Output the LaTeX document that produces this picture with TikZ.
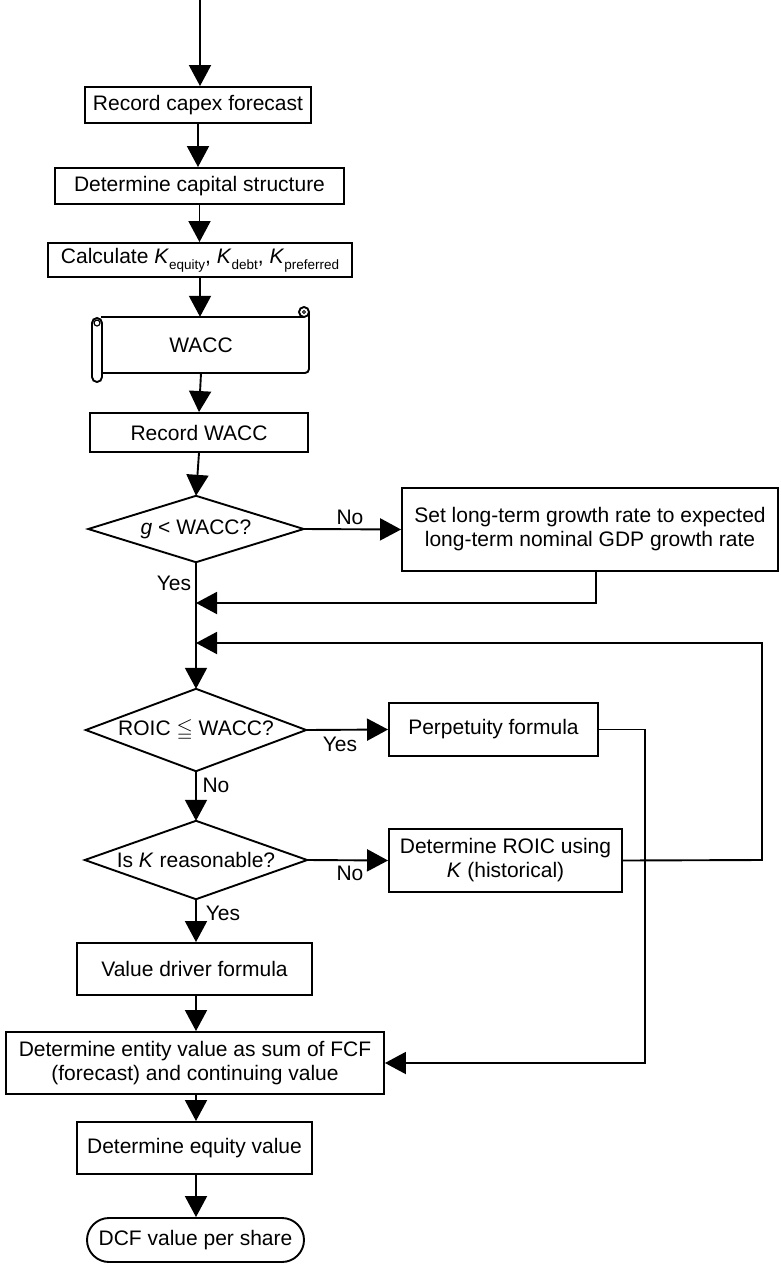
\documentclass[tikz,border=0pt]{standalone}
\usepackage{fontspec}
\setmainfont{Liberation Sans}
\usepackage{amssymb}
\usetikzlibrary{arrows.meta}
\newcommand\subx[1]{\raisebox{-0.3em}{\fontsize{13.5pt}{14pt}\selectfont #1}}
\begin{document}
\begin{tikzpicture}[x=1pt,y=-1pt,
  font=\fontsize{21pt}{24pt}\selectfont,
  ln/.style={line width=1.9pt, line join=miter},
  box/.style={draw, line width=1.9pt, inner sep=0pt, align=center},
  dia/.style={inner sep=0pt, align=center},
  arr/.style={ln, -{Triangle[length=21pt,width=22pt]}},
  lbl/.style={inner sep=0pt}]
\useasboundingbox (0,0) rectangle (781,1264);

% nodes
\coordinate (start) at (200,0);
\node[box, minimum width=226pt, minimum height=36pt] (rcf) at (198,105) {Record capex forecast};
\node[box, minimum width=289pt, minimum height=36pt] (dcs) at (199.5,186) {Determine capital structure};
\node[box, minimum width=304pt, minimum height=34pt] (calc) at (200,260) {Calculate \textit{K}\subx{equity}, \textit{K}\subx{debt}, \textit{K}\subx{preferred}};
\node[inner sep=0pt, minimum width=208pt, minimum height=56pt] (wacc) at (201,345) {WACC};
\node[box, minimum width=218pt, minimum height=39pt] (rw) at (199,432.5) {Record WACC};
\node[dia, minimum width=215pt, minimum height=66pt] (d1) at (196,529) {\textit{g} < WACC?};
\node[box, minimum width=376pt, minimum height=83pt] (set) at (590,529.5) {Set long-term growth rate to expected\\long-term nominal GDP growth rate};
\node[dia, minimum width=220pt, minimum height=82pt] (d2) at (196,730) {ROIC $\leqq$ WACC?};
\node[box, minimum width=209pt, minimum height=53pt] (perp) at (493.5,729.5) {Perpetuity formula};
\node[dia, minimum width=222pt, minimum height=78pt] (d3) at (196,860) {Is \textit{K} reasonable?};
\node[box, minimum width=233pt, minimum height=63pt] (roic) at (505.5,860.5) {Determine ROIC using\\\textit{K} (historical)};
\node[box, minimum width=235pt, minimum height=52pt] (vd) at (194.5,969) {Value driver formula};
\node[box, minimum width=378pt, minimum height=62pt] (ent) at (195,1063) {Determine entity value as sum of FCF\\(forecast) and continuing value};
\node[box, minimum width=235pt, minimum height=52pt] (eq) at (194.5,1148) {Determine equity value};
\node[box, rounded corners=22pt, minimum width=217pt, minimum height=44pt] (dcf) at (195.5,1240) {DCF value per share};

% diamonds
\foreach \d in {d1,d2,d3}
  \draw[ln] (\d.north) -- (\d.east) -- (\d.south) -- (\d.west) -- cycle;

% scroll shape around WACC
\draw[ln] (101,317) -- (304,317);
\draw[ln] (304,312) circle[radius=5pt];
\draw[line width=1pt] (304,312) circle[radius=1.5pt];
\draw[ln, rounded corners=4pt] (309,312) -- (309,373) -- (102,373);
\draw[ln, rounded corners=5pt] (92,318) rectangle (102,382);
\draw[line width=1.2pt] (97,323) circle[radius=3pt];

% helper coordinates
\coordinate (j1) at (196,603);
\coordinate (j2) at (196,643);
\coordinate (c1) at (596,603);
\coordinate (r1) at (762,860);
\coordinate (r2) at (762,643);
\coordinate (p1) at (645,729.5);
\coordinate (p2) at (645,1063);

% connectors
\draw[arr] (start) -- (start |- rcf.north);
\draw[arr] (rcf.south) -- (rcf.south |- dcs.north);
\draw[arr] (dcs.south) -- (dcs.south |- calc.north);
\draw[arr] (calc.south) -- (calc.south |- wacc.north);
\draw[arr] (wacc.south) -- (rw.north);
\draw[arr] (rw.south) -- (d1.north);
\draw[arr] (d1.east) -- (set.west);
\draw[arr] (set.south -| c1) -- (c1) -- (j1);
\draw[arr] (d1.south) -- (d2.north);
\draw[arr] (roic.east) -- (r1) -- (r2) -- (j2);
\draw[arr] (d2.east) -- (perp.west);
\draw[arr] (perp.east) -- (p1) -- (p2) -- (ent.east);
\draw[arr] (d2.south) -- (d3.north);
\draw[arr] (d3.east) -- (roic.west);
\draw[arr] (d3.south) -- (d3.south |- vd.north);
\draw[arr] (vd.south -| d3.south) -- (d3.south |- ent.north);
\draw[arr] (ent.south -| d3.south) -- (d3.south |- eq.north);
\draw[arr] (eq.south -| d3.south) -- (d3.south |- dcf.north);

% labels
\node[lbl] (l1) at (350,517) {No};
\node[lbl] (l2) at (174,583) {Yes};
\node[lbl] (l3) at (340,744) {Yes};
\node[lbl] (l4) at (216,785) {No};
\node[lbl] (l5) at (350,873) {No};
\node[lbl] (l6) at (223,913) {Yes};
\end{tikzpicture}
\end{document}
